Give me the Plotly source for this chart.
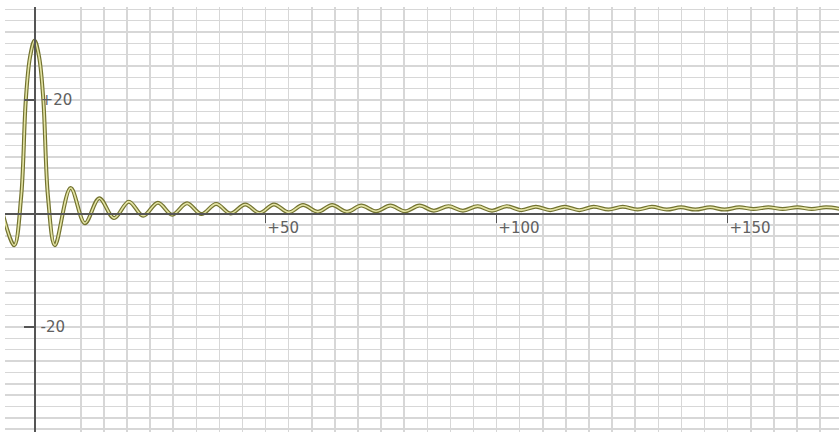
import plotly.graph_objects as go

# curve points (extrema and a few shape points)
curve_x = [-6.8, -4.4, -2.9, -1.9, -1.0, 0.0, 1.0, 1.9, 2.9, 4.4,
           7.8, 10.9, 14.0, 17.2, 20.4, 23.5, 26.7, 29.8, 33.0, 36.1,
           39.3, 42.4, 45.6, 48.7, 51.8, 55.0, 58.1, 61.3, 64.4, 67.6,
           70.7, 73.9, 77.0, 80.2, 83.3, 86.4, 89.6, 92.7, 95.9, 99.0,
           102.2, 105.3, 108.5, 111.6, 114.7, 117.9, 121.0, 124.2, 127.3, 130.5,
           133.6, 136.8, 139.9, 143.0, 146.2, 149.3, 152.5, 155.6, 158.8, 161.9,
           165.1, 168.2, 171.3, 174.5]
curve_y = [-0.3, -5.6, 3.0, 20.0, 27.5, 30.5, 27.5, 20.0, 3.0, -5.6,
           4.5, -1.7, 2.7, -0.8, 2.1, -0.4, 1.9, -0.2, 1.8, -0.1,
           1.7, 0.0, 1.6, 0.1, 1.6, 0.2, 1.5, 0.3, 1.5, 0.3,
           1.4, 0.4, 1.4, 0.4, 1.4, 0.5, 1.3, 0.5, 1.3, 0.5,
           1.3, 0.6, 1.2, 0.6, 1.2, 0.6, 1.2, 0.7, 1.2, 0.7,
           1.2, 0.7, 1.1, 0.7, 1.1, 0.7, 1.1, 0.8, 1.1, 0.8,
           1.1, 0.8, 1.1, 0.8]

x_tick_vals = [50, 100, 150]
x_tick_text = ["+50", "+100", "+150"]
y_tick_vals = [20, -20]
y_tick_text = ["+20", "-20"]

x_range = [-6.4, 174.1]
y_range = [-38.5, 36.4]

GRID = "#d7d7d7"
AXIS = "#555555"
FONT = dict(family="DejaVu Sans", size=15, color="#606060")

fig = go.Figure()
fig.add_trace(go.Scatter(
    x=curve_x, y=curve_y, mode="lines",
    line=dict(color="#737330", width=4.0, shape="spline", smoothing=1.0),
    hoverinfo="skip", showlegend=False))
fig.add_trace(go.Scatter(
    x=curve_x, y=curve_y, mode="lines",
    line=dict(color="#e4e4a4", width=1.6, shape="spline", smoothing=1.0),
    hoverinfo="skip", showlegend=False))

x_pos = (0 - y_range[0]) / (y_range[1] - y_range[0])
y_pos = (0 - x_range[0]) / (x_range[1] - x_range[0])

fig.update_layout(
    width=839, height=432,
    margin=dict(l=5, r=0, t=7, b=0, pad=0),
    paper_bgcolor="white", plot_bgcolor="white",
    showlegend=False,
    xaxis=dict(
        range=x_range, anchor="free", position=x_pos,
        showline=True, linecolor=AXIS, linewidth=2,
        zeroline=False,
        showgrid=True, gridcolor=GRID, gridwidth=1.5,
        tickvals=x_tick_vals, ticktext=x_tick_text,
        ticks="outside", ticklen=8, tickwidth=1.5, tickcolor=AXIS,
        ticklabelposition="outside right",
        tickfont=FONT,
        minor=dict(dtick=5, tick0=0, showgrid=True, gridcolor=GRID,
                   gridwidth=1.5, ticks=""),
        automargin=False, fixedrange=True,
    ),
    yaxis=dict(
        range=y_range, anchor="free", position=y_pos,
        showline=True, linecolor=AXIS, linewidth=2,
        zeroline=False,
        showgrid=True, gridcolor=GRID, gridwidth=1.5,
        tickvals=y_tick_vals, ticktext=y_tick_text,
        ticks="outside", ticklen=10, tickwidth=1.5, tickcolor=AXIS,
        ticklabelposition="inside", ticklabelstandoff=5,
        tickfont=FONT,
        minor=dict(dtick=2, tick0=0, showgrid=True, gridcolor=GRID,
                   gridwidth=1.5, ticks=""),
        automargin=False, fixedrange=True,
    ),
)

fig.write_html(
    "out.html",
    config={"displayModeBar": False, "staticPlot": True},
    post_script="document.body.style.margin='0';document.body.style.overflow='hidden';",
)
